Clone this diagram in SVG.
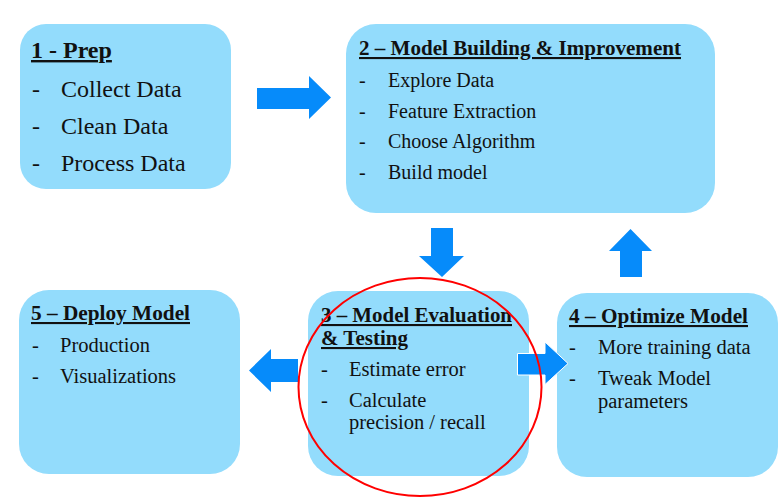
<svg xmlns="http://www.w3.org/2000/svg" width="780" height="498" viewBox="0 0 780 498">
<style>
.box{fill:#93DCFC;}
.arr{fill:#068BFA;}
text{font-family:"Liberation Serif","DejaVu Serif",serif;font-weight:normal;fill:#111;}
text.t{font-weight:bold;text-decoration:underline;}
.t1{font-size:24px;}
.t2{font-size:21px;}
.i1{font-size:24px;}
.i2{font-size:20px;}
.i3{font-size:20.5px;}
</style>
<rect width="780" height="498" fill="#fff"/>
<g id="node1">
<rect class="box" x="20" y="24" width="211" height="165" rx="26"/>
<text class="t t1" x="31" y="58">1 - Prep</text>
<text class="i1" x="32" y="97">-</text><text class="i1" x="61" y="97">Collect Data</text>
<text class="i1" x="32" y="134">-</text><text class="i1" x="61" y="134">Clean Data</text>
<text class="i1" x="32" y="171">-</text><text class="i1" x="61" y="171">Process Data</text>
</g>
<g id="node2">
<rect class="box" x="346" y="24" width="369" height="189" rx="30"/>
<text class="t t2" x="359" y="55" textLength="322" lengthAdjust="spacingAndGlyphs">2 – Model Building &amp; Improvement</text>
<text class="i2" x="359" y="87">-</text><text class="i2" x="388" y="87">Explore Data</text>
<text class="i2" x="359" y="118">-</text><text class="i2" x="388" y="118">Feature Extraction</text>
<text class="i2" x="359" y="148">-</text><text class="i2" x="388" y="148">Choose Algorithm</text>
<text class="i2" x="359" y="179">-</text><text class="i2" x="388" y="179">Build model</text>
</g>
<g id="node5">
<rect class="box" x="19" y="290" width="221" height="184" rx="30"/>
<text class="t t2" x="31" y="320" textLength="159" lengthAdjust="spacingAndGlyphs">5 – Deploy Model</text>
<text class="i3" x="32" y="352">-</text><text class="i3" x="60" y="352">Production</text>
<text class="i3" x="32" y="383">-</text><text class="i3" x="60" y="383">Visualizations</text>
</g>
<g id="node3">
<rect class="box" x="308" y="291" width="221" height="185" rx="30"/>
<text class="t t2" x="321" y="322" textLength="191" lengthAdjust="spacingAndGlyphs">3 – Model Evaluation</text>
<text class="t t2" x="321" y="345">&amp; Testing</text>
<text class="i3" x="321" y="376">-</text><text class="i3" x="349" y="376">Estimate error</text>
<text class="i3" x="321" y="407">-</text><text class="i3" x="349" y="407">Calculate</text>
<text class="i3" x="349" y="429">precision / recall</text>
</g>
<g id="node4">
<rect class="box" x="557" y="293" width="221" height="184" rx="30"/>
<text class="t t2" x="569" y="323" textLength="179" lengthAdjust="spacingAndGlyphs">4 – Optimize Model</text>
<text class="i3" x="569" y="354">-</text><text class="i3" x="598" y="354">More training data</text>
<text class="i3" x="569" y="385">-</text><text class="i3" x="598" y="385">Tweak Model</text>
<text class="i3" x="598" y="408">parameters</text>
</g>
<g id="connectors">
<polygon class="arr" points="257,88 309,88 309,76 331,97.5 309,119 309,109 257,109"/>
<polygon class="arr" points="431,228 453,228 453,256 464,256 442,277 419,256 431,256"/>
<polygon class="arr" points="620,277 642,277 642,251 652,251 630.5,229 609,251 620,251"/>
<polygon class="arr" points="298,359 271,359 271,349 249,370.5 271,392 271,382 298,382"/>
<polygon class="arr" points="517.5,353.5 545,353.5 545,342 568,363.5 545,384.5 545,375 517.5,375" stroke="#fff" stroke-width="1"/>
</g>
<g id="highlight">
<ellipse cx="420" cy="387" rx="121.5" ry="109" fill="none" stroke="#FF0000" stroke-width="2"/>
</g>
</svg>
